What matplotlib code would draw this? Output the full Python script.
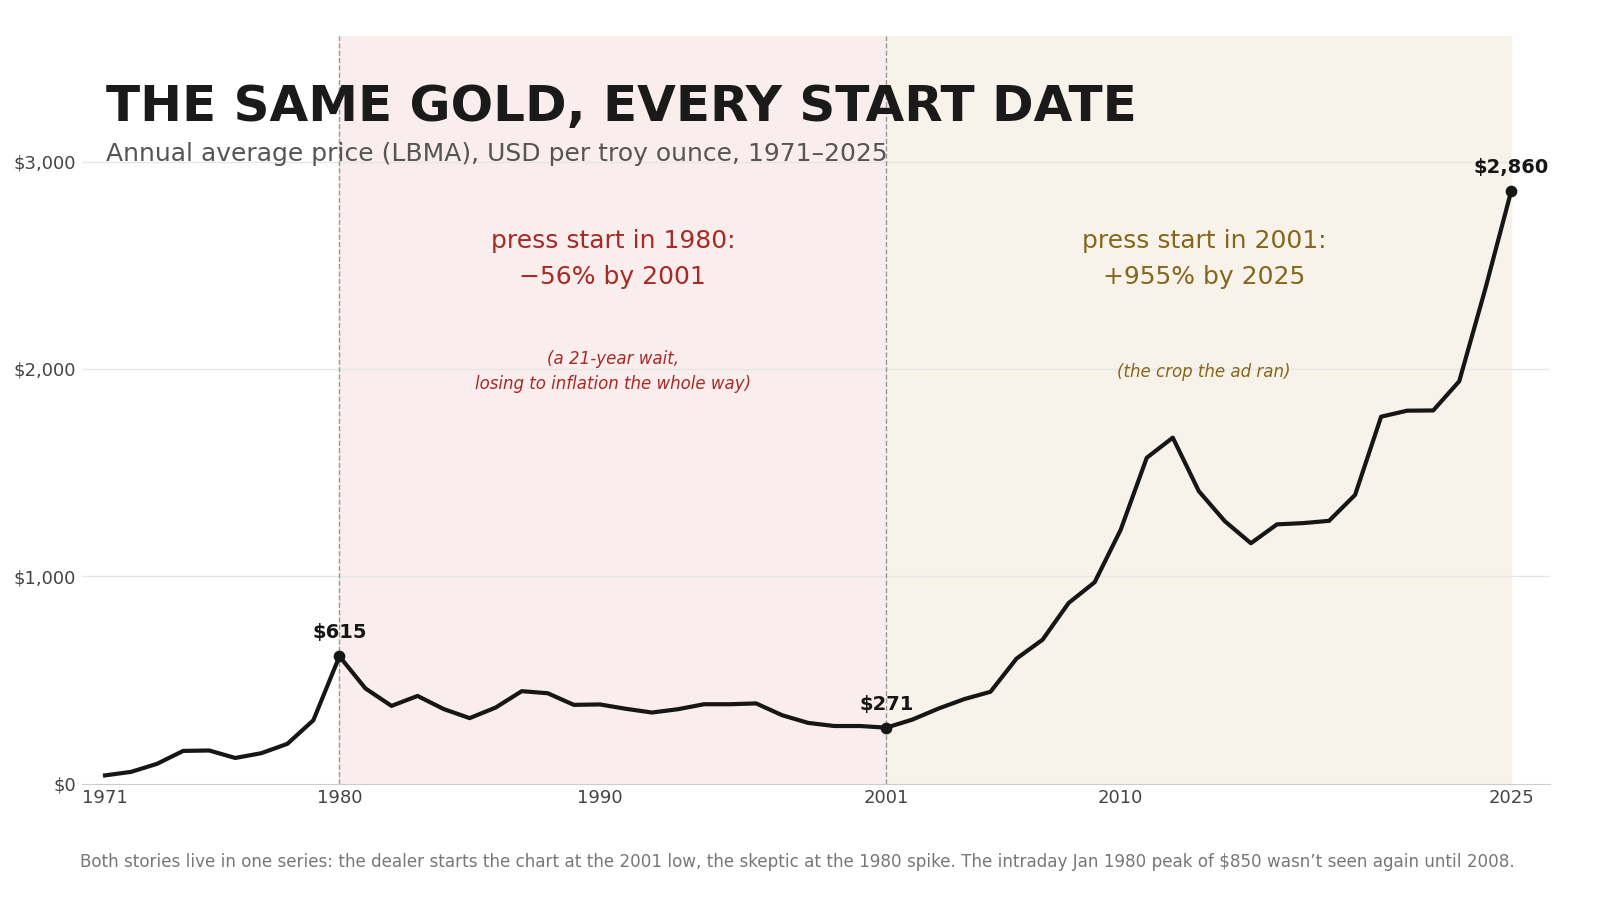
import numpy as np
import matplotlib.pyplot as plt

years = list(range(1971, 2026))
price = [41, 58, 97, 159, 161, 125, 148, 193, 307, 615,
         460, 376, 424, 361, 317, 368, 447, 437, 381, 383,
         362, 344, 360, 384, 384, 388, 331, 294, 279, 279,
         271, 310, 363, 409, 444, 604, 695, 872, 972, 1225,
         1572, 1669, 1411, 1266, 1160, 1251, 1257, 1268, 1393, 1770,
         1799, 1800, 1941, 2386, 2860]
marked = [1980, 2001, 2025]
xticks = [1971, 1980, 1990, 2001, 2010, 2025]
yticks = [0, 1000, 2000, 3000]

fig = plt.figure(figsize=(16, 9), dpi=100)
ax = fig.add_axes([0.051, 0.129, 0.918, 0.831])
ax.set_xlim(1970.1, 2026.5)
ax.set_ylim(0, 3605)

ax.axvspan(1980, 2001, color='#f9eded', zorder=0)
ax.axvspan(2001, 2025, color='#f7f3ea', zorder=0)
for x in (1980, 2001):
    ax.axvline(x, color='#999999', ls='--', lw=1, zorder=1)
for y in yticks[1:]:
    ax.axhline(y, color='#e6e6e6', lw=1, zorder=0.5)

ax.plot(years, price, color='#161616', lw=3, zorder=3)
for yr in marked:
    v = price[years.index(yr)]
    ax.scatter([yr], [v], color='#161616', s=55, zorder=4)
    ax.annotate(f'${v:,}', (yr, v), xytext=(0, 10), textcoords='offset points',
                ha='center', va='bottom', fontsize=14, fontweight='bold', color='#161616')

ax.set_xticks(xticks)
ax.set_yticks(yticks)
ax.set_yticklabels([f'${t:,}' for t in yticks])
ax.tick_params(axis='both', length=0, labelsize=13, colors='#444444')
ax.tick_params(axis='y', pad=4)
for s in ('top', 'right', 'left'):
    ax.spines[s].set_visible(False)
ax.spines['bottom'].set_color('#cccccc')

ax.text(1990.5, 2530, 'press start in 1980:\n\u221256% by 2001', ha='center', va='center',
        fontsize=18, color='#a82a24', linespacing=1.6)
ax.text(1990.5, 1990, '(a 21-year wait,\nlosing to inflation the whole way)', ha='center',
        va='center', fontsize=12, style='italic', color='#a82a24', linespacing=1.5)
ax.text(2013.2, 2530, 'press start in 2001:\n+955% by 2025', ha='center', va='center',
        fontsize=18, color='#86661a', linespacing=1.6)
ax.text(2013.2, 1985, '(the crop the ad ran)', ha='center', va='center',
        fontsize=12, style='italic', color='#86661a')

fig.text(0.066, 0.881, 'THE SAME GOLD, EVERY START DATE', fontsize=36, fontweight='bold',
         color='#1a1a1a', va='center')
fig.text(0.066, 0.829, 'Annual average price (LBMA), USD per troy ounce, 1971\u20132025',
         fontsize=18, color='#555555', va='center')
fig.text(0.05, 0.042, 'Both stories live in one series: the dealer starts the chart at the 2001 low, '
         'the skeptic at the 1980 spike. The intraday Jan 1980 peak of $850 wasn\u2019t seen again until 2008.',
         fontsize=12.1, color='#777777', va='center')

fig.savefig('out.png')
